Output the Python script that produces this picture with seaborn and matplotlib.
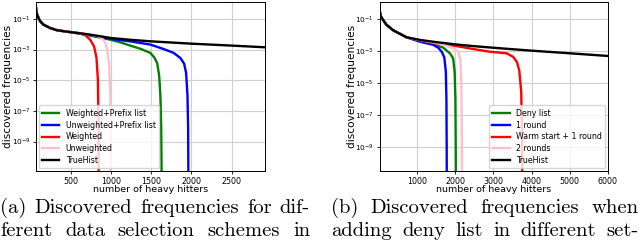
import matplotlib
matplotlib.use("Agg")
import matplotlib.pyplot as plt
import seaborn as sns
import pandas as pd

# ---- panel (a): data selection schemes ----
true_a_x = [68, 72, 80, 90, 100, 120, 160, 245, 330, 490, 660, 820, 1000, 1240, 1500, 2000, 2500, 2910]
true_a_y = [0.5, 0.3, 0.2, 0.15, 0.11, 0.07, 0.042, 0.025, 0.018, 0.0137, 0.0107, 0.008, 0.0056, 0.0043, 0.0034, 0.0024, 0.0018, 0.0014]

wpref_a_x = [68, 72, 80, 90, 100, 120, 160, 245, 330, 490, 660, 850, 1000, 1120, 1240, 1370, 1490, 1540, 1575, 1600, 1615, 1625, 1632]
wpref_a_y = [0.5, 0.3, 0.2, 0.15, 0.11, 0.07, 0.042, 0.025, 0.018, 0.0137, 0.0098, 0.0062, 0.0043, 0.0029, 0.0018, 0.0011, 0.0006, 0.0003, 0.00013, 2e-5, 1e-6, 1e-8, 1e-12]

upref_a_x = [68, 72, 80, 90, 100, 120, 160, 245, 330, 490, 660, 850, 1000, 1240, 1490, 1650, 1780, 1864, 1910, 1935, 1952, 1960, 1964]
upref_a_y = [0.5, 0.3, 0.2, 0.15, 0.11, 0.07, 0.042, 0.025, 0.018, 0.0137, 0.0104, 0.0068, 0.0049, 0.0034, 0.0021, 0.0011, 0.0006, 0.00028, 0.00012, 3e-5, 1e-6, 1e-8, 1e-12]

weighted_a_x = [68, 72, 80, 90, 100, 120, 160, 245, 330, 490, 600, 680, 740, 790, 820, 838, 845, 848]
weighted_a_y = [0.5, 0.3, 0.2, 0.15, 0.11, 0.07, 0.042, 0.025, 0.018, 0.0137, 0.0118, 0.0085, 0.0045, 0.0016, 0.0003, 1e-5, 1e-8, 1e-12]

unweighted_a_x = [68, 72, 80, 90, 100, 120, 160, 245, 330, 490, 660, 820, 880, 925, 955, 978, 992, 998]
unweighted_a_y = [0.5, 0.3, 0.2, 0.15, 0.11, 0.07, 0.042, 0.025, 0.018, 0.0137, 0.0107, 0.0078, 0.0058, 0.0032, 0.001, 0.0001, 1e-6, 1e-12]

# ---- panel (b): deny list settings ----
true_b_x = [25, 28, 33, 40, 50, 60, 80, 120, 200, 380, 730, 1086, 1500, 2000, 2500, 3000, 3435, 4000, 5000, 6000]
true_b_y = [0.6, 0.45, 0.32, 0.24, 0.18, 0.15, 0.12, 0.087, 0.045, 0.02, 0.0072, 0.0049, 0.0036, 0.0026, 0.002, 0.0016, 0.00133, 0.00105, 0.00072, 0.00049]

deny_b_x = [25, 28, 33, 40, 50, 60, 80, 120, 200, 380, 730, 1086, 1433, 1695, 1870, 1950, 1990, 2010, 2018, 2022]
deny_b_y = [0.6, 0.45, 0.32, 0.24, 0.18, 0.15, 0.12, 0.087, 0.045, 0.02, 0.0072, 0.0042, 0.0028, 0.0016, 0.0007, 0.00035, 5e-5, 1e-6, 1e-9, 1e-12]

round1_b_x = [25, 28, 33, 40, 50, 60, 80, 120, 200, 380, 730, 1086, 1433, 1560, 1652, 1720, 1760, 1775, 1782, 1785]
round1_b_y = [0.6, 0.45, 0.32, 0.24, 0.18, 0.15, 0.12, 0.087, 0.045, 0.02, 0.0072, 0.0038, 0.0024, 0.0016, 0.0009, 0.0004, 5e-5, 1e-6, 1e-9, 1e-12]

warm_b_x = [25, 28, 33, 40, 50, 60, 80, 120, 200, 380, 730, 1086, 1500, 2000, 2500, 2913, 3349, 3522, 3620, 3680, 3730, 3752, 3760]
warm_b_y = [0.6, 0.45, 0.32, 0.24, 0.18, 0.15, 0.12, 0.087, 0.045, 0.02, 0.0072, 0.0046, 0.003, 0.0021, 0.0013, 0.0009, 0.00072, 0.00043, 0.0002, 6e-5, 3e-6, 1e-8, 1e-12]

round2_b_x = [25, 28, 33, 40, 50, 60, 80, 120, 200, 380, 730, 1086, 1500, 1783, 1950, 2086, 2140, 2165, 2178, 2183]
round2_b_y = [0.6, 0.45, 0.32, 0.24, 0.18, 0.15, 0.12, 0.087, 0.045, 0.02, 0.0072, 0.0048, 0.0032, 0.0021, 0.0015, 0.0009, 0.0003, 1e-5, 1e-8, 1e-12]

series_a = [
    ("Weighted+Prefix list", wpref_a_x, wpref_a_y, "green"),
    ("Unweighted+Prefix list", upref_a_x, upref_a_y, "blue"),
    ("Weighted", weighted_a_x, weighted_a_y, "red"),
    ("Unweighted", unweighted_a_x, unweighted_a_y, "pink"),
    ("TrueHist", true_a_x, true_a_y, "black"),
]
series_b = [
    ("Deny list", deny_b_x, deny_b_y, "green"),
    ("1 round", round1_b_x, round1_b_y, "blue"),
    ("Warm start + 1 round", warm_b_x, warm_b_y, "red"),
    ("2 rounds", round2_b_x, round2_b_y, "pink"),
    ("TrueHist", true_b_x, true_b_y, "black"),
]

caption_a = ["(a) Discovered frequencies for dif-", "ferent data selection schemes in"]
caption_b = ["(b) Discovered frequencies when", "adding deny list in different set-"]

fig = plt.figure(figsize=(6.4, 2.52), dpi=100)
ax_a = fig.add_axes([36 / 640, 1 - 171 / 252, 228.5 / 640, 169 / 252])
ax_b = fig.add_axes([379.5 / 640, 1 - 171 / 252, 228.5 / 640, 169 / 252])


def draw_panel(ax, series, xlim, ylim, legend_loc):
    for name, xs, ys, col in series:
        df = pd.DataFrame({"x": xs, "y": ys})
        sns.lineplot(data=df, x="x", y="y", color=col, label=name, ax=ax,
                     estimator=None, sort=False, linewidth=1.7)
    ax.set_yscale("log")
    ax.set_xlim(*xlim)
    ax.set_ylim(*ylim)
    ax.set_yticks([1e-1, 1e-3, 1e-5, 1e-7, 1e-9])
    ax.yaxis.set_minor_locator(matplotlib.ticker.NullLocator())
    ax.grid(True, color="#d0d0d0", linewidth=0.8)
    ax.tick_params(axis="x", labelsize=5.7, length=2.5, width=0.6, pad=1.5)
    ax.tick_params(axis="y", labelsize=5.3, length=2.5, width=0.6, pad=1.5)
    for sp in ax.spines.values():
        sp.set_linewidth(0.7)
    ax.set_xlabel("number of heavy hitters", fontsize=6.8)
    ax.set_ylabel("discovered frequencies", fontsize=7.6)
    ax.xaxis.set_label_coords(0.5, -0.082)
    ax.yaxis.set_label_coords(-0.1, 0.5)
    ax.legend(loc=legend_loc, fontsize=5.7, borderaxespad=0.35, handlelength=2.2,
              labelspacing=0.36, borderpad=0.4, framealpha=0.8)


draw_panel(ax_a, series_a, (68, 2910), (1.2e-11, 1.25), "lower left")
ax_a.set_xticks([500, 1000, 1500, 2000, 2500])
draw_panel(ax_b, series_b, (25, 6000), (3.2e-11, 1.15), "lower right")
ax_b.set_xticks([1000, 2000, 3000, 4000, 5000, 6000])

# captions, justified line by line like the LaTeX source
renderer = fig.canvas.get_renderer()


def justified(line, x0, x1, y, size=14.8):
    words = line.split(" ")
    items = [fig.text(0, y, w, fontsize=size, family="cmr10", va="baseline")
             for w in words]
    widths = [t.get_window_extent(renderer).width for t in items]
    gap = (x1 - x0 - sum(widths)) / max(len(words) - 1, 1)
    pos = x0
    for t, w in zip(items, widths):
        t.set_x(pos / 640)
        pos += w + gap


justified(caption_a[0], 0, 310, 1 - 213 / 252)
justified(caption_a[1], 0, 310, 1 - 236.5 / 252)
justified(caption_b[0], 331, 639, 1 - 213 / 252)
justified(caption_b[1], 331, 639, 1 - 236.5 / 252)

fig.savefig("out.png", dpi=100)
